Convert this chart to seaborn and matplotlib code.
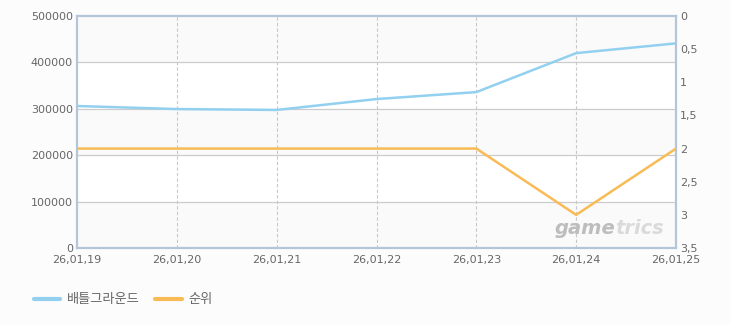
import matplotlib
matplotlib.use("Agg")
import matplotlib.pyplot as plt
import seaborn as sns
import pandas as pd
import numpy as np

dates = ["26.01.19", "26.01.20", "26.01.21", "26.01.22", "26.01.23", "26.01.24", "26.01.25"]
users = [306000, 299500, 297500, 321000, 336000, 420000, 441000]
rank = [2, 2, 2, 2, 2, 3, 2]
series_names = ["배틀그라운드", "순위"]
left_ticks = [0, 100000, 200000, 300000, 400000, 500000]
right_ticks = [0, 0.5, 1, 1.5, 2, 2.5, 3, 3.5]

sns.set_theme(style="white")
plt.rcParams['font.family'] = ['Noto Sans CJK KR', 'DejaVu Sans']

blue = "#92d0f0"
orange = "#f8bb55"
spine_c = "#b3c6d9"
txt_c = "#666666"

df = pd.DataFrame({"idx": np.arange(len(dates)), "users": users, "rank": rank})

fig = plt.figure(figsize=(7.3, 3.25), dpi=100)
fig.patch.set_facecolor("#fcfcfc")
ax = fig.add_axes([77/730, 1-248/325, (676-77)/730, (248-16)/325])
ax.set_facecolor("white")

# alternating bands
for i, lo in enumerate(left_ticks[:-1]):
    c = "#fafafa" if i % 2 == 0 else "white"
    ax.axhspan(lo, lo + 100000, color=c, zorder=0, lw=0)

for y in left_ticks[1:-1]:
    ax.axhline(y, color="#cccccc", lw=0.9, zorder=1)
for x in range(1, len(dates) - 1):
    ax.axvline(x, color="#c8c8c8", lw=0.8, ls=(0, (3, 2)), zorder=1)

sns.lineplot(data=df, x="idx", y="users", ax=ax, color=blue, lw=1.8, label=series_names[0], legend=False, zorder=3)
ax.set_xlim(0, len(dates) - 1)
ax.set_ylim(0, 500000)
ax.set_xticks(range(len(dates)))
ax.set_xticklabels([d.replace(".", ",") for d in dates])
ax.set_yticks(left_ticks)
ax.set_yticklabels([str(t) for t in left_ticks])
ax.set_xlabel("")
ax.set_ylabel("")
ax.tick_params(axis="y", length=0, labelsize=8, labelcolor=txt_c, pad=3)
ax.tick_params(axis="x", length=0, labelsize=8, labelcolor=txt_c, pad=5)
for lab in ax.get_xticklabels() + ax.get_yticklabels():
    lab.set_family("DejaVu Sans")

ax2 = ax.twinx()
sns.lineplot(data=df, x="idx", y="rank", ax=ax2, color=orange, lw=1.8, label=series_names[1], legend=False, zorder=3)
ax2.set_ylim(3.5, 0)
ax2.set_yticks(right_ticks)
ax2.set_yticklabels([("%g" % t).replace(".", ",") for t in right_ticks])
ax2.set_ylabel("")
ax2.tick_params(axis="y", length=0, labelsize=8, labelcolor=txt_c, pad=3)
for lab in ax2.get_yticklabels():
    lab.set_family("DejaVu Sans")

for a in (ax, ax2):
    for s in a.spines.values():
        s.set_color(spine_c)
        s.set_linewidth(1.5)

ax.text(0.898, 0.085, "game", transform=ax.transAxes, ha="right", va="center",
        fontsize=14, fontweight="bold", style="italic", color="#bdbdbd", zorder=2, family="DejaVu Sans")
ax.text(0.898, 0.085, "trics", transform=ax.transAxes, ha="left", va="center",
        fontsize=14, fontweight="bold", style="italic", color="#dadada", zorder=2, family="DejaVu Sans")

h1, l1 = ax.get_legend_handles_labels()
h2, l2 = ax2.get_legend_handles_labels()
leg = fig.legend(h1 + h2, l1 + l2, loc="center left", bbox_to_anchor=(22/730, 1-300/325),
                 ncol=2, frameon=False, fontsize=9.5, handlelength=2.0, handletextpad=0.5,
                 columnspacing=1.2, labelcolor=txt_c)
for line in leg.get_lines():
    line.set_linewidth(3)

fig.savefig("out.png", dpi=100, facecolor=fig.get_facecolor())
